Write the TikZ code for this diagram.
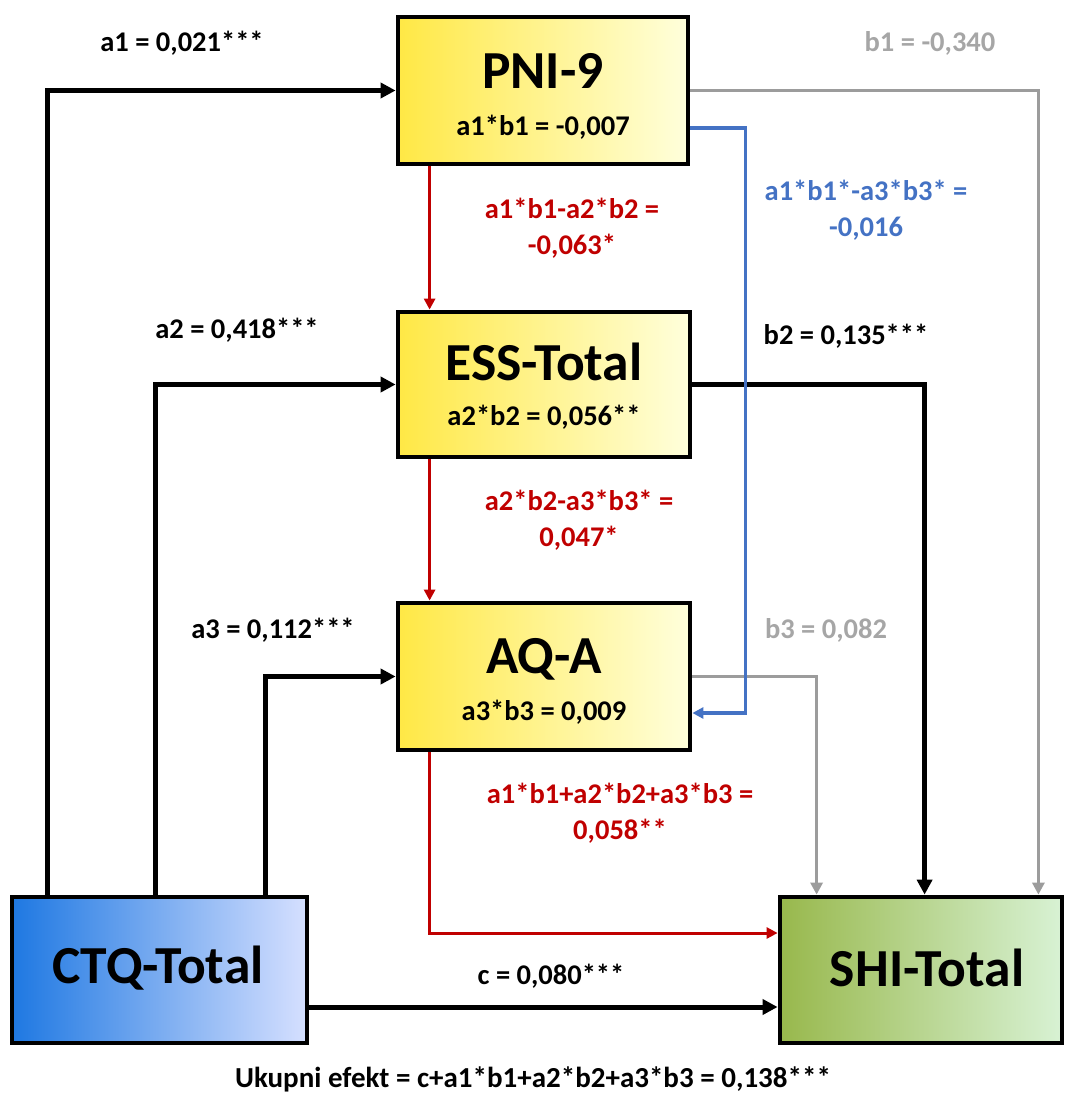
\documentclass[tikz,border=0pt]{standalone}
\usepackage{fontspec}
\setmainfont{Carlito}
\usetikzlibrary{arrows.meta,calc}
\definecolor{myred}{HTML}{C00000}
\definecolor{myblue}{HTML}{4472C4}
\definecolor{mygray}{HTML}{9C9C9C}
\definecolor{mygraytxt}{HTML}{A6A6A6}
\definecolor{yelA}{HTML}{FFE845}
\definecolor{yelB}{HTML}{FFFFDC}
\definecolor{bluA}{HTML}{1E78E2}
\definecolor{bluB}{HTML}{D6E0FF}
\definecolor{grnA}{HTML}{98B84C}
\definecolor{grnB}{HTML}{D8F2D4}
\tikzset{
  box/.style={draw=black, line width=4.8pt, rectangle, inner sep=0pt},
  ybox/.style={box, left color=yelA, right color=yelB},
  title/.style={font=\fontsize{53.5}{58}\selectfont\bfseries},
  sub/.style={font=\fontsize{28.5}{32}\selectfont\bfseries},
  lbl/.style={font=\fontsize{28.5}{36.5}\selectfont\bfseries, align=center},
  blk/.style={draw=black, line width=5pt, -{Triangle[length=15pt,width=15pt]}},
  gry/.style={draw=mygray, line width=3.6pt, -{Triangle[length=12pt,width=12pt]}},
  rdl/.style={draw=myred, line width=3pt, -{Triangle[length=11pt,width=11pt]}},
  bll/.style={draw=myblue, line width=3.4pt, -{Triangle[length=11pt,width=11pt]}},
}
\begin{document}
\begin{tikzpicture}[x=1pt,y=-1pt]
\useasboundingbox (0,0) rectangle (1065,1100);
% boxes
\node[ybox, minimum width=290pt, minimum height=147pt] (pni) at (543,90.5) {};
\node[ybox, minimum width=292pt, minimum height=145pt] (ess) at (544,384.5) {};
\node[ybox, minimum width=292pt, minimum height=147pt] (aq) at (544,676.5) {};
\node[box, left color=bluA, right color=bluB, minimum width=295pt, minimum height=146pt] (ctq) at (159.5,970) {};
\node[box, left color=grnA, right color=grnB, minimum width=282pt, minimum height=146pt] (shi) at (921,970) {};
% box texts
\node[title] (pnit) at (543,71) {PNI-9};
\node[sub] (pnis) at (543,127) {a1*b1 = -0,007};
\node[title] (esst) at (544,362) {ESS-Total};
\node[sub] (esss) at (544,417) {a2*b2 = 0,056**};
\node[title] (aqt) at (544,659) {AQ-A};
\node[sub] (aqs) at (544,712) {a3*b3 = 0,009};
\node[title] (ctqt) at (158,968) {CTQ-Total};
\node[title] (shit) at (927,968) {SHI-Total};
% connectors
\draw[blk] ($(ctq.north west)+(38,0)$) |- (pni.west);
\draw[blk] ($(ctq.north west)+(146,0)$) |- (ess.west);
\draw[blk] ($(ctq.north west)+(256,0)$) |- (aq.west);
\draw[blk] ($(ctq.east)+(0,37)$) -- ($(shi.west)+(0,37)$);
\draw[gry] (pni.east) -| ($(shi.north east)+(-26,0)$);
\draw[blk] (ess.east) -| ($(shi.north west)+(147,0)$);
\draw[gry] (aq.east) -| ($(shi.north west)+(39,0)$);
\draw[bll] ($(pni.east)+(0,37.5)$) -- ++(55,0) |- ($(aq.east)+(0,36.5)$);
\draw[rdl] ($(pni.south west)+(34,0)$) -- ($(ess.north west)+(34,0)$);
\draw[rdl] ($(ess.south west)+(34,0)$) -- ($(aq.north west)+(34,0)$);
\draw[rdl] ($(aq.south west)+(34,0)$) |- ($(shi.west)+(0,-37)$);
% labels
\node[lbl] (la1) at (182,43) {a1 = 0,021***};
\node[lbl, text=mygraytxt] (lb1) at (930,43) {b1 = -0,340};
\node[lbl, text=myred] (lr1) at (572,228) {a1*b1-a2*b2 =\\-0,063*};
\node[lbl, text=myblue] (lbl1) at (866,210) {a1*b1*-a3*b3* =\\-0,016};
\node[lbl] (la2) at (237,330) {a2 = 0,418***};
\node[lbl] (lb2) at (846,336) {b2 = 0,135***};
\node[lbl, text=myred] (lr2) at (579,520) {a2*b2-a3*b3* =\\0,047*};
\node[lbl] (la3) at (273,630) {a3 = 0,112***};
\node[lbl, text=mygraytxt] (lb3) at (826,630) {b3 = 0,082};
\node[lbl, text=myred] (lr3) at (620,813) {a1*b1+a2*b2+a3*b3 =\\0,058**};
\node[lbl] (lc) at (551,976) {c = 0,080***};
\node[lbl, font=\fontsize{29}{34}\selectfont\bfseries] (ltot) at (533,1079) {Ukupni efekt = c+a1*b1+a2*b2+a3*b3 = 0,138***};
\end{tikzpicture}
\end{document}
